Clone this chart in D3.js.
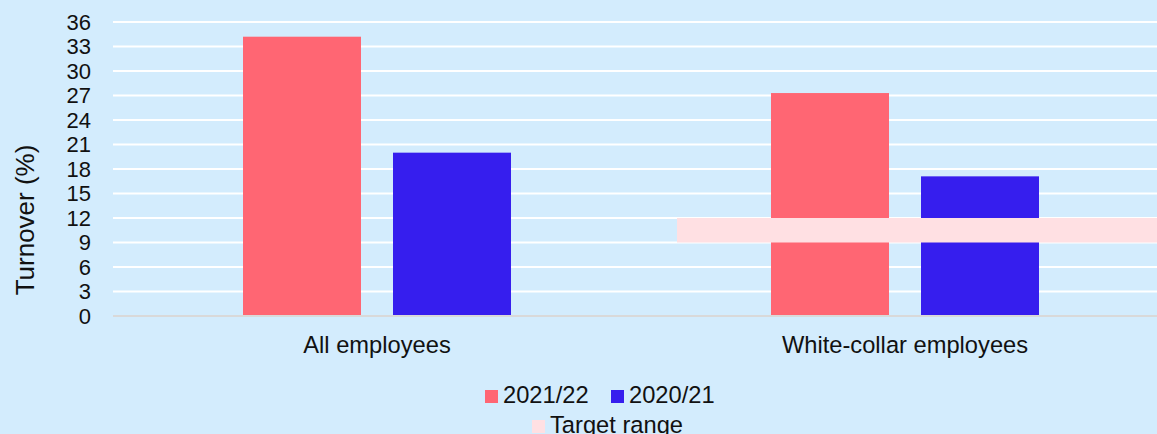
<!DOCTYPE html>
<html>
<head>
<meta charset="utf-8">
<script src="https://cdn.jsdelivr.net/npm/d3@7"></script>
<style>
  body { margin: 0; background: #d3ecfd; }
  svg { display: block; font-family: "Liberation Sans", Arial, sans-serif; }
</style>
</head>
<body>
<div id="chart-area"></div>
<script>
const categories = ["All employees", "White-collar employees"];
const seriesNames = ["2021/22", "2020/21"];
const values2122 = [34.2, 27.3];
const values2021 = [20.0, 17.1];
const targetRange = [9, 12];
const yTicks = [0, 3, 6, 9, 12, 15, 18, 21, 24, 27, 30, 33, 36];

const W = 1157, H = 434;
const colors = { "2021/22": "#ff6673", "2020/21": "#361eee", target: "#ffe0e3" };

const svg = d3.select("#chart-area").append("svg")
  .attr("width", W).attr("height", H);

svg.append("rect").attr("width", W).attr("height", H).attr("fill", "#d3ecfd");

// scales
const x0 = d3.scaleBand().domain(categories).range([113, 1169]);
const groupW = 268;
const x1 = d3.scaleBand().domain(seriesNames).range([0, groupW]).paddingInner(32 / 150);
const y = d3.scaleLinear().domain([0, 36]).range([316, 22]);

// gridlines
svg.append("g").selectAll("line")
  .data(yTicks.filter(d => d > 0))
  .join("line")
  .attr("x1", 113).attr("x2", W)
  .attr("y1", d => y(d)).attr("y2", d => y(d))
  .attr("stroke", "#ffffff").attr("stroke-width", 2);

// y axis labels
const yAxis = d3.axisLeft(y).tickValues(yTicks).tickSize(0).tickPadding(0);
const ya = svg.append("g").attr("transform", "translate(91,0)").call(yAxis);
ya.select(".domain").remove();
ya.selectAll("text").attr("font-size", 22).attr("fill", "#111").attr("font-family", "Liberation Sans, Arial, sans-serif");

// bars
const rows = categories.map((c, i) => ({ cat: c, vals: [
  { s: "2021/22", v: values2122[i] },
  { s: "2020/21", v: values2021[i] }
] }));

const groups = svg.append("g").selectAll("g")
  .data(rows).join("g")
  .attr("transform", d => `translate(${x0(d.cat) + x0.bandwidth() / 2 - groupW / 2},0)`);

groups.selectAll("rect")
  .data(d => d.vals).join("rect")
  .attr("x", d => x1(d.s))
  .attr("width", x1.bandwidth())
  .attr("y", d => y(d.v))
  .attr("height", d => y(0) - y(d.v))
  .attr("fill", d => colors[d.s]);

// target range band
svg.append("rect")
  .attr("x", x0(categories[1]) + 36)
  .attr("width", W)
  .attr("y", y(targetRange[1]))
  .attr("height", y(targetRange[0]) - y(targetRange[1]))
  .attr("fill", colors.target);

// baseline
svg.append("line")
  .attr("x1", 113).attr("x2", W)
  .attr("y1", y(0)).attr("y2", y(0))
  .attr("stroke", "#d9d9d9").attr("stroke-width", 2);

// x labels
svg.append("g").selectAll("text")
  .data(categories).join("text")
  .attr("x", d => x0(d) + x0.bandwidth() / 2)
  .attr("y", 353)
  .attr("text-anchor", "middle")
  .attr("font-size", 23.7)
  .attr("fill", "#111")
  .text(d => d);

// y title
svg.append("text")
  .attr("transform", "translate(34,220) rotate(-90)")
  .attr("text-anchor", "middle")
  .attr("font-size", 26)
  .attr("fill", "#111")
  .text("Turnover (%)");

// legend
const legendItems = [
  { label: "2021/22", color: colors["2021/22"], x: 485, y: 403 },
  { label: "2020/21", color: colors["2020/21"], x: 611, y: 403 },
  { label: "Target range", color: colors.target, x: 532, y: 433 }
];
const lg = svg.append("g").selectAll("g").data(legendItems).join("g")
  .attr("transform", d => `translate(${d.x},${d.y})`);
lg.append("rect").attr("x", 0).attr("y", -13).attr("width", 13).attr("height", 13).attr("fill", d => d.color);
lg.append("text").attr("x", 18).attr("y", 0).attr("font-size", 23.7).attr("fill", "#111").text(d => d.label);
</script>
</body>
</html>
